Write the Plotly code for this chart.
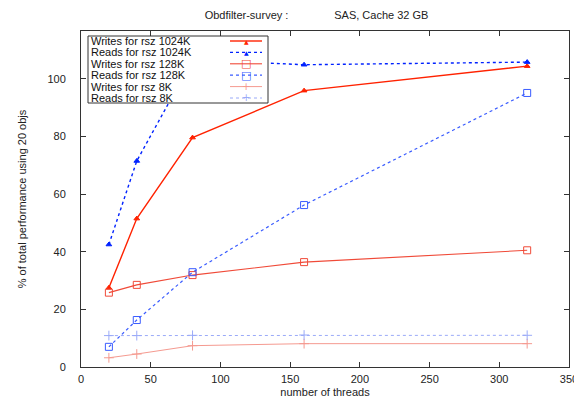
import plotly.graph_objects as go

threads = [20, 40, 80, 160, 320]
writes_1024k = [27.5, 51.5, 79.6, 95.9, 104.4]
reads_1024k = [42.5, 71.5, 106.6, 104.9, 105.8]
writes_128k = [25.8, 28.5, 31.9, 36.4, 40.5]
reads_128k = [7.0, 16.3, 32.9, 56.2, 95.1]
writes_8k = [3.2, 4.5, 7.4, 8.1, 8.1]
reads_8k = [10.9, 10.9, 11.0, 11.1, 11.0]

series = [
    ("Writes for rsz 1024K", writes_1024k, "#ff2200", "solid", "triangle-up", 5, 1.4, "\u25b2", 6),
    ("Reads for rsz 1024K", reads_1024k, "#0022ff", "dot", "triangle-up", 5, 1.4, "\u25b2", 6),
    ("Writes for rsz 128K", writes_128k, "#f04a38", "solid", "square-open", 7, 1.1, "\u25a1", 11),
    ("Reads for rsz 128K", reads_128k, "#3a5cff", "dot", "square-open", 7, 1.2, "\u25a1", 11),
    ("Writes for rsz 8K", writes_8k, "#f59a90", "solid", "cross-thin-open", 7, 1.0, "+", 10),
    ("Reads for rsz 8K", reads_8k, "#9aaaf8", "dot", "cross-thin-open", 7, 1.0, "+", 10),
]

# page has an 8px body margin; compensate so the figure fills the 582x402 window
OFF = 8
W, H = 582 - OFF, 402 - OFF
L, R, T, B = 81 - OFF, 13, 31 - OFF, 35
pw, ph = W - L - R, H - T - B

def px(x):
    return (x - OFF - L) / pw

def py(y):
    return (H - B - (y - OFF)) / ph

font = "Liberation Sans, Arial, sans-serif"
fig = go.Figure()
shapes = []
annotations = []

# legend box
shapes.append(dict(type="rect", xref="paper", yref="paper",
                   x0=px(88), x1=px(268), y0=py(103), y1=py(36),
                   line=dict(color="#333", width=1), fillcolor="white", layer="above"))

for i, (name, ys, color, dash, sym, size, w, glyph, gsize) in enumerate(series):
    fig.add_trace(go.Scatter(
        x=threads, y=ys, name=name, mode="lines+markers", showlegend=False,
        line=dict(color=color, dash=dash, width=w),
        marker=dict(symbol=sym, size=size, color=color, line=dict(color=color, width=1)),
    ))
    rowy = 41 + i * 11.4
    annotations.append(dict(xref="paper", yref="paper", x=px(89), y=py(rowy),
                            xanchor="left", yanchor="middle", showarrow=False,
                            text=name, font=dict(size=11, family=font, color="#111")))
    shapes.append(dict(type="line", xref="paper", yref="paper",
                       x0=px(230), x1=px(262), y0=py(rowy), y1=py(rowy),
                       line=dict(color=color, width=w, dash=dash), layer="above"))
    annotations.append(dict(xref="paper", yref="paper", x=px(246), y=py(rowy),
                            xanchor="center", yanchor="middle", showarrow=False,
                            text=glyph, font=dict(size=gsize, family="DejaVu Sans", color=color)))

fig.update_layout(
    width=W, height=H,
    margin=dict(l=L, r=R, t=T, b=B, pad=0),
    paper_bgcolor="white", plot_bgcolor="white",
    font=dict(family=font, size=11, color="#222"),
    title=dict(text="Obdfilter-survey :" + "\u00a0" * 15 + "SAS, Cache 32 GB",
               x=(316.5 - OFF) / W, xanchor="center", y=1 - (15 - OFF) / H, yanchor="middle",
               font=dict(size=11, family=font, color="#222")),
    showlegend=False,
    shapes=shapes,
    annotations=annotations,
)
fig.update_xaxes(
    range=[0, 350], tick0=0, dtick=50, showgrid=False, zeroline=False,
    showline=True, linecolor="#333", linewidth=1, mirror="ticks",
    ticks="inside", ticklen=5, tickcolor="#333", automargin=False,
    ticklabelstandoff=2,
    title=dict(text="number of threads", standoff=4, font=dict(size=11)),
)
fig.update_yaxes(
    range=[0, 116.6], tick0=0, dtick=20, showgrid=False, zeroline=False,
    showline=True, linecolor="#333", linewidth=1, mirror="ticks",
    ticks="inside", ticklen=5, tickcolor="#333", automargin=False,
    ticklabelstandoff=12,
    title=dict(text="% of total performance using 20 objs", standoff=18, font=dict(size=11)),
)

fig.write_html("out.html")
